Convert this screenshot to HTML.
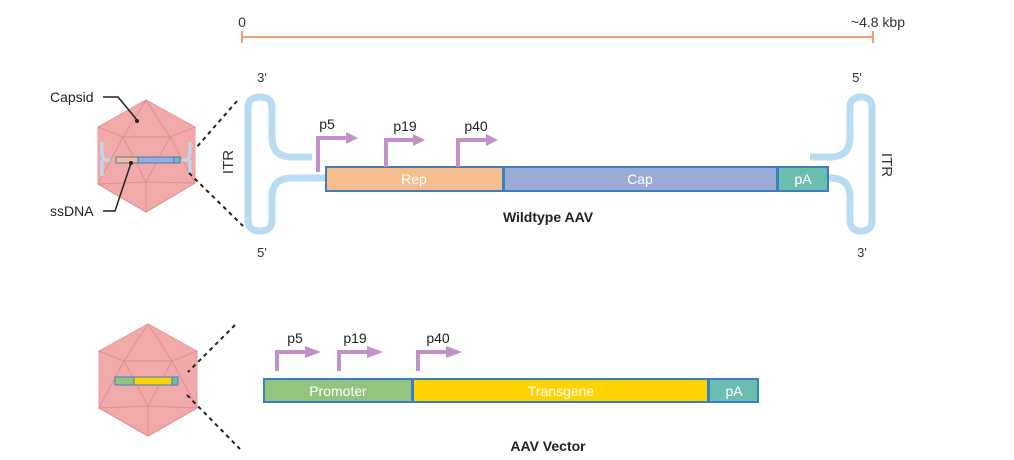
<!DOCTYPE html>
<html><head><meta charset="utf-8"><style>
html,body{margin:0;padding:0;background:#fff;width:1014px;height:460px;overflow:hidden}
text{font-family:"Liberation Sans",sans-serif}
</style></head><body>
<svg width="1014" height="460" viewBox="0 0 1014 460" xmlns="http://www.w3.org/2000/svg">
<!-- scale -->
<line x1="242" y1="37" x2="873" y2="37" stroke="#eea173" stroke-width="2"/>
<line x1="242" y1="31" x2="242" y2="43" stroke="#eea173" stroke-width="2"/>
<line x1="873" y1="31" x2="873" y2="43" stroke="#eea173" stroke-width="2"/>
<text x="242" y="27" font-size="14" fill="#333" text-anchor="middle">0</text>
<text x="905" y="27" font-size="14" fill="#333" text-anchor="end">~4.8 kbp</text>

<!-- capsid top -->
<g stroke="#e28e8e" stroke-width="1" fill="none">
<polygon points="146,100 195,127 195,183 146,212 98,184 98,127" fill="#f2a9a9" stroke="#e79a9a"/>
<polyline points="98,127 123,137 146,100 170,137 195,127"/>
<polyline points="123,137 170,137 195,183 146,212 98,184 123,137"/>
<polyline points="98,184 146,182 195,183"/>
<polyline points="123,137 146,182 170,137"/>
<line x1="146" y1="182" x2="146" y2="212"/>
</g>
<g stroke="#b8dcf2" stroke-width="3" fill="none">
<path d="M110,160 H106 Q102,160 102,150 V142 M102,160 V176"/>
<path d="M182,160 H186 Q190,160 190,150 V142 M190,160 V176"/>
</g>
<rect x="116" y="157" width="22" height="6" fill="#f6bd8f" stroke="#3a7fc4" stroke-width="1"/>
<rect x="138" y="157" width="36" height="6" fill="#9aabd6" stroke="#3a7fc4" stroke-width="1"/>
<rect x="174" y="157" width="6" height="6" fill="#6cbfb0" stroke="#3a7fc4" stroke-width="1"/>
<text x="50" y="102" font-size="14" fill="#222">Capsid</text>
<polyline points="103,97 118,97 137,120" stroke="#222" stroke-width="1.5" fill="none"/>
<circle cx="137" cy="121" r="2" fill="#222"/>
<text x="50" y="216" font-size="14" fill="#222">ssDNA</text>
<polyline points="103,211 115,211 131,163" stroke="#222" stroke-width="1.5" fill="none"/>
<circle cx="131" cy="163" r="2" fill="#222"/>
<line x1="237" y1="101" x2="196" y2="148" stroke="#222" stroke-width="2" stroke-dasharray="4,4"/>
<line x1="189" y1="173" x2="243" y2="226" stroke="#222" stroke-width="2" stroke-dasharray="4,4"/>

<!-- capsid bottom -->
<g stroke="#e28e8e" stroke-width="1" fill="none">
<polygon points="148,324 197,351 197,408 148,436 99,408 99,351" fill="#f2a9a9" stroke="#e79a9a"/>
<polyline points="99,351 124,361 148,324 172,361 197,351"/>
<polyline points="124,361 172,361 197,408 148,436 99,408 124,361"/>
<polyline points="99,408 148,406 197,408"/>
<polyline points="124,361 148,406 172,361"/>
<line x1="148" y1="406" x2="148" y2="436"/>
</g>
<rect x="115" y="377" width="19" height="8" fill="#93c47d" stroke="#3a7fc4" stroke-width="1"/>
<rect x="134" y="377" width="38" height="8" fill="#ffd200" stroke="#3a7fc4" stroke-width="1"/>
<rect x="172" y="377" width="6" height="8" fill="#6cbfb0" stroke="#3a7fc4" stroke-width="1"/>
<line x1="235" y1="325" x2="188" y2="372" stroke="#222" stroke-width="2" stroke-dasharray="4,4"/>
<line x1="187" y1="395" x2="240" y2="449" stroke="#222" stroke-width="2" stroke-dasharray="4,4"/>

<!-- ITRs -->
<g stroke="#b8dcf2" stroke-width="7" fill="none">
<path d="M312,157 H292 Q272,157 272,137 V108 Q272,97 260,97 Q248,97 248,108 V220 Q248,231 260,231 Q272,231 272,220 V197 Q272,178 292,178 H326"/>
<path d="M810,157 H830 Q850,157 850,137 V108 Q850,97 861,97 Q872,97 872,108 V220 Q872,231 861,231 Q850,231 850,220 V197 Q850,178 830,178 H828"/>
</g>
<text x="262" y="82" font-size="13" fill="#333" text-anchor="middle">3'</text>
<text x="262" y="257" font-size="13" fill="#333" text-anchor="middle">5'</text>
<text x="857" y="82" font-size="13" fill="#333" text-anchor="middle">5'</text>
<text x="862" y="257" font-size="13" fill="#333" text-anchor="middle">3'</text>
<text transform="translate(233,162) rotate(-90)" font-size="15" fill="#333" text-anchor="middle">ITR</text>
<text transform="translate(882,165) rotate(90)" font-size="15" fill="#333" text-anchor="middle">ITR</text>

<!-- top bars -->
<g stroke="#3a7fc4" stroke-width="2">
<rect x="326" y="167" width="177" height="24" fill="#f6bd8f"/>
<rect x="504" y="167" width="273" height="24" fill="#9aabd6"/>
<rect x="778" y="167" width="50" height="24" fill="#6cbfb0"/>
</g>
<g font-size="14" fill="#fff" text-anchor="middle">
<text x="414" y="184">Rep</text><text x="640" y="184">Cap</text><text x="803" y="184">pA</text>
</g>
<text x="548" y="222" font-size="14" font-weight="bold" fill="#222" text-anchor="middle">Wildtype AAV</text>

<!-- promoter arrows top -->
<g stroke="#c490c9" stroke-width="4" fill="none">
<polyline points="318,172 318,138 347,138"/>
<polyline points="386,167 386,140 414,140"/>
<polyline points="458,167 458,140 487,140"/>
<polyline points="277,371 277,352 306,352"/>
<polyline points="339,371 339,352 368,352"/>
<polyline points="418,371 418,352 447,352"/>
</g>
<g fill="#c490c9">
<polygon points="346,132 358,138 346,144"/>
<polygon points="413,134 425,140 413,146"/>
<polygon points="486,134 498,140 486,146"/>
<polygon points="305,346 321,352 305,358"/>
<polygon points="367,346 383,352 367,358"/>
<polygon points="446,346 462,352 446,358"/>
</g>
<g font-size="14" fill="#222" text-anchor="middle">
<text x="327" y="129">p5</text><text x="405" y="131">p19</text><text x="476" y="131">p40</text>
<text x="295" y="343">p5</text><text x="355" y="343">p19</text><text x="438" y="343">p40</text>
</g>

<!-- bottom bars -->
<g stroke="#3a7fc4" stroke-width="2">
<rect x="264" y="379" width="148" height="23" fill="#93c47d"/>
<rect x="413" y="379" width="295" height="23" fill="#ffd200"/>
<rect x="709" y="379" width="49" height="23" fill="#6cbfb0"/>
</g>
<g font-size="14" fill="#fff" text-anchor="middle">
<text x="338" y="396">Promoter</text><text x="561" y="396">Transgene</text><text x="734" y="396">pA</text>
</g>
<text x="548" y="451" font-size="14" font-weight="bold" fill="#222" text-anchor="middle">AAV Vector</text>
</svg>
</body></html>
